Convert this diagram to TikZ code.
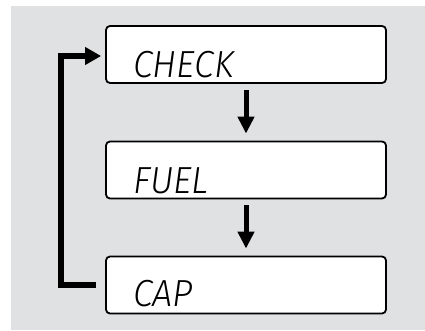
\documentclass[tikz,border=0pt]{standalone}
\usepackage{fontspec}
\setmainfont{Liberation Sans}
\newfontfamily\lcd{Fira Sans Light}[ItalicFont={Fira Sans Light Italic}]
\usetikzlibrary{arrows.meta}
\definecolor{bggray}{RGB}{224,225,227}
\tikzset{
  box/.style={draw=black, line width=1.8pt, fill=white, rounded corners=4pt,
    minimum width=280pt, minimum height=57pt, inner sep=0pt},
  lcdtext/.style={anchor=base west, inner sep=0pt, font=\lcd\itshape\fontsize{37.7}{40}\selectfont},
  downarrow/.style={line width=5pt, -{Triangle[width=16pt,length=17pt]}, shorten <=6pt, shorten >=7pt},
  looparrow/.style={line width=6.5pt, line join=miter, -{Triangle[width=17pt,length=16pt]}}
}
\begin{document}
\begin{tikzpicture}[x=1pt,y=-1pt]
\useasboundingbox (0,0) rectangle (425,331);
\fill[bggray] (11,6) rectangle (425,330);
\node[box] (check) at (246,54.5) {};
\node[box] (fuel) at (246,170) {};
\node[box] (cap) at (246,285) {};
\node[lcdtext] (t1) at (133,78) {\scalebox{0.95}[1]{CHECK}};
\node[lcdtext] (t2) at (133,193) {\scalebox{0.95}[1]{FUEL}};
\node[lcdtext] (t3) at (133,306) {\scalebox{0.95}[1]{CAP}};
\draw[downarrow] (check) -- (fuel);
\draw[downarrow] (fuel) -- (cap);
\draw[looparrow] ([xshift=-9pt]cap.west) -- ++(-35,0) |- ([xshift=-4pt,yshift=-1.5pt]check.west);
\end{tikzpicture}
\end{document}
